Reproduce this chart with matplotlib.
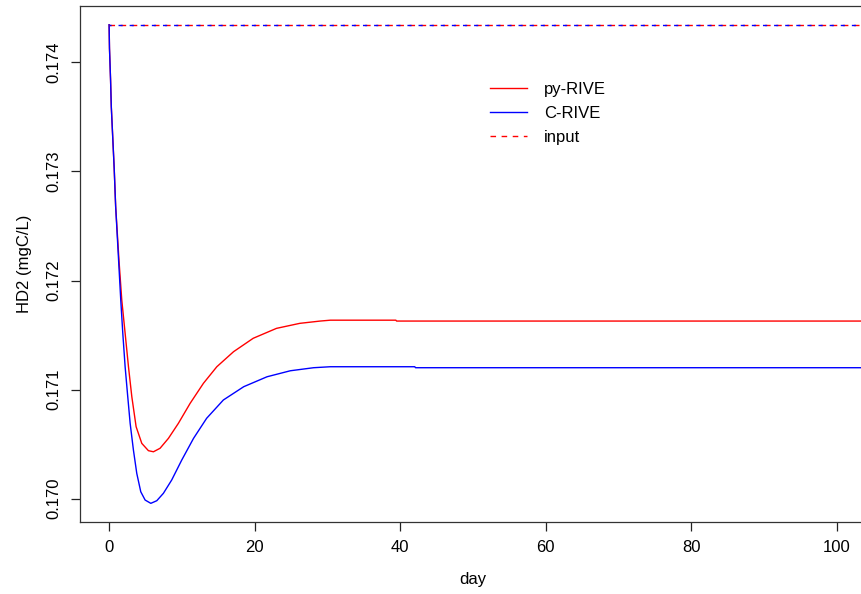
import matplotlib
matplotlib.use("Agg")
from matplotlib import pyplot as plt

plt.rcParams['font.family'] = ['Liberation Sans', 'DejaVu Sans']

# values (day, HD2 in mgC/L)
day_c = [0, 0.05, 0.2, 0.3, 0.5, 0.7, 0.9, 1.6, 1.88, 2.2, 2.52, 2.89, 3.34, 3.8, 4.35,
         4.95, 5.73, 6.55, 7.46, 8.6, 9.98, 11.6, 13.4, 15.7, 18.5, 21.7, 24.9, 28.1,
         30.4, 42.0, 42.1, 104.5]
hd2_c = [0.174346, 0.174133, 0.173840, 0.173595, 0.173310, 0.173026, 0.172678, 0.171821,
         0.171516, 0.171209, 0.170965, 0.170690, 0.170445, 0.170231, 0.170062, 0.169986,
         0.169956, 0.169980, 0.170048, 0.170170, 0.170353, 0.170552, 0.170736, 0.170904,
         0.171026, 0.171117, 0.171172, 0.171200, 0.171209, 0.171209, 0.171200, 0.171200]

day_py = [0, 0.05, 0.2, 0.3, 0.5, 0.7, 0.9, 1.37, 1.74, 2.2, 2.66, 3.12, 3.71, 4.49, 5.4,
          6.09, 7.0, 8.15, 9.52, 11.13, 12.96, 14.8, 17.1, 19.8, 23.0, 26.2, 29.0, 30.4,
          39.4, 39.5, 104.5]
hd2_py = [0.174346, 0.174133, 0.173840, 0.173595, 0.173310, 0.173026, 0.172678, 0.172172,
          0.171821, 0.171516, 0.171209, 0.170934, 0.170659, 0.170506, 0.170439, 0.170429,
          0.170461, 0.170552, 0.170690, 0.170873, 0.171057, 0.171209, 0.171347, 0.171470,
          0.171561, 0.171607, 0.171628, 0.171636, 0.171636, 0.171628, 0.171628]

day_in = [0, 104.5]
hd2_in = [0.174347, 0.174347]

xticks = [0, 20, 40, 60, 80, 100]
yticks = [0.170, 0.171, 0.172, 0.173, 0.174]

fig = plt.figure(figsize=(8.61, 5.94), dpi=100)
ax = fig.add_axes([80 / 861, 1 - 522.3 / 594, 786 / 861, 516.3 / 594])

ax.plot(day_py, hd2_py, color="#FF0000", lw=1.0, label="py-RIVE")
ax.plot(day_c, hd2_c, color="#0000FF", lw=1.0, label="C-RIVE")
ax.plot(day_in, hd2_in, color="#FF0000", lw=1.0, ls=(0, (4, 4)), label="input")
ax.plot(day_in, hd2_in, color="#0000FF", lw=1.0, ls=(1.5, (3, 5)))

ax.set_xlim(-4, 104)
ax.set_ylim(0.169782, 0.174518)
ax.set_xticks(xticks)
ax.set_yticks(yticks)
ax.set_yticklabels(["%.3f" % v for v in yticks], rotation=90, va="center")
ax.tick_params(axis="both", labelsize=12, length=6.7, width=0.9, color="#222222")
ax.tick_params(axis="y", pad=7)
ax.tick_params(axis="x", pad=6)
for s in ax.spines.values():
    s.set_color("#333333")
    s.set_linewidth(0.9)

ax.set_xlabel("day", fontsize=12, labelpad=12)
ax.set_ylabel("HD2 (mgC/L)", fontsize=12, labelpad=10)

ax.legend(loc="upper left", bbox_to_anchor=(0.5025, 0.882), frameon=False, fontsize=12,
          handlelength=2.2, handletextpad=1.05, labelspacing=0.55)

plt.savefig("out.png", dpi=100)
